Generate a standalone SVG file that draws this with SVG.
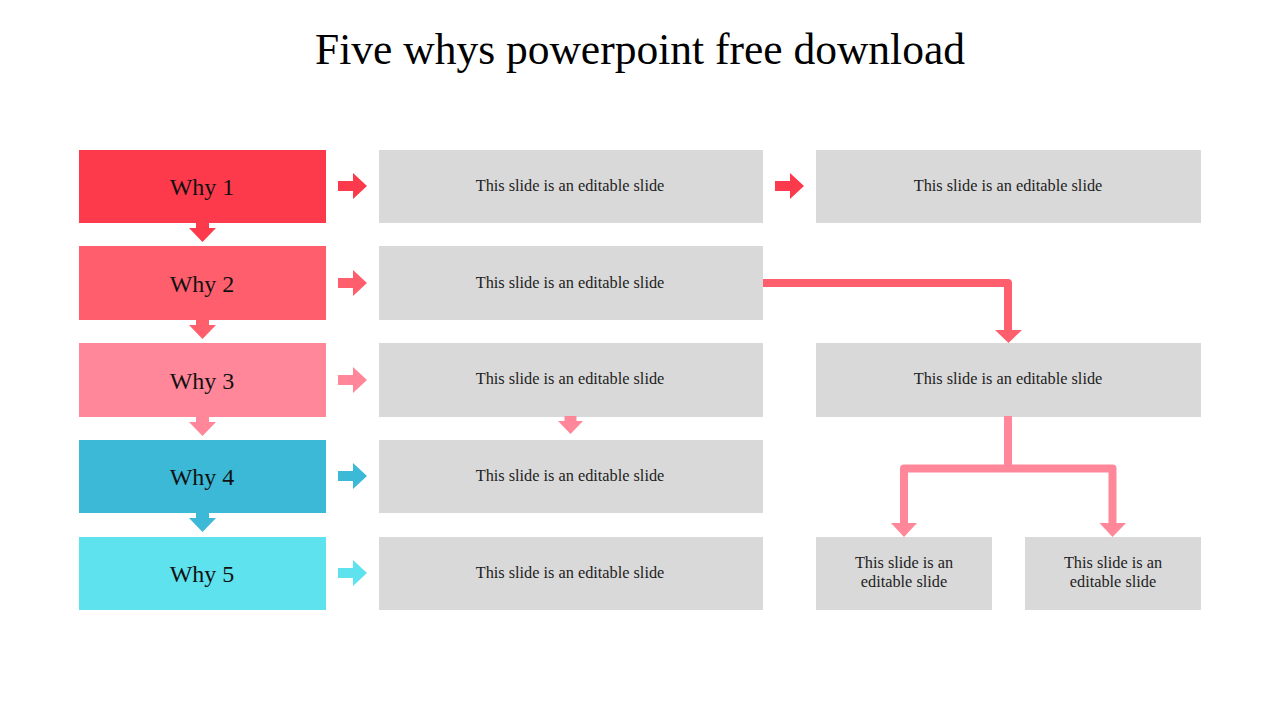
<svg xmlns="http://www.w3.org/2000/svg" width="1280" height="720" viewBox="0 0 1280 720">
<style>
.title{font-family:"Liberation Serif","DejaVu Serif",serif;font-size:43.5px;fill:#000;text-anchor:middle}
.why{font-family:"Liberation Serif","DejaVu Serif",serif;font-size:24px;fill:#111;text-anchor:middle}
.box{fill:#D9D9D9}
.t{font-family:"Liberation Serif","DejaVu Serif",serif;font-size:16.3px;fill:#222;text-anchor:middle}
.c2{fill:none;stroke:#FF5F6D;stroke-width:8;stroke-linejoin:round}
.c3{fill:none;stroke:#FF8799;stroke-width:8;stroke-linejoin:round}
</style>
<defs>
<path id="ra" d="M0,-5 H15 V-13 L29,0 L15,13 V5 H0 Z"/>
<path id="da" d="M-6.5,0 H6.5 V6 H13.5 L0,20 L-13.5,6 H-6.5 Z"/>
</defs>
<text class="title" x="640" y="64">Five whys powerpoint free download</text>

<g id="why1"><rect x="79" y="150" width="247" height="73" fill="#FC3A4B"/><text class="why" x="202" y="195">Why 1</text></g>
<g id="why2"><rect x="79" y="246" width="247" height="74" fill="#FF5F6D"/><text class="why" x="202" y="292">Why 2</text></g>
<g id="why3"><rect x="79" y="343" width="247" height="74" fill="#FF8799"/><text class="why" x="202" y="389">Why 3</text></g>
<g id="why4"><rect x="79" y="440" width="247" height="73" fill="#3BB9D7"/><text class="why" x="202" y="485">Why 4</text></g>
<g id="why5"><rect x="79" y="537" width="247" height="73" fill="#5EE2EE"/><text class="why" x="202" y="582">Why 5</text></g>

<g id="m1"><rect class="box" x="379" y="150" width="384" height="73"/><text class="t" x="570" y="191">This slide is an editable slide</text></g>
<g id="m2"><rect class="box" x="379" y="246" width="384" height="74"/><text class="t" x="570" y="288">This slide is an editable slide</text></g>
<g id="m3"><rect class="box" x="379" y="343" width="384" height="74"/><text class="t" x="570" y="384">This slide is an editable slide</text></g>
<g id="m4"><rect class="box" x="379" y="440" width="384" height="73"/><text class="t" x="570" y="481">This slide is an editable slide</text></g>
<g id="m5"><rect class="box" x="379" y="537" width="384" height="73"/><text class="t" x="570" y="578">This slide is an editable slide</text></g>

<g id="r1"><rect class="box" x="816" y="150" width="385" height="73"/><text class="t" x="1008" y="191">This slide is an editable slide</text></g>
<g id="r3"><rect class="box" x="816" y="343" width="385" height="74"/><text class="t" x="1008" y="384">This slide is an editable slide</text></g>
<g id="r5a"><rect class="box" x="816" y="537" width="176" height="73"/><text class="t" x="904" y="568">This slide is an</text><text class="t" x="904" y="587">editable slide</text></g>
<g id="r5b"><rect class="box" x="1025" y="537" width="176" height="73"/><text class="t" x="1113" y="568">This slide is an</text><text class="t" x="1113" y="587">editable slide</text></g>

<g id="connectors">
<use href="#ra" x="338" y="186" fill="#FC3A4B"/>
<use href="#ra" x="338" y="283" fill="#FF5F6D"/>
<use href="#ra" x="338" y="380" fill="#FF8799"/>
<use href="#ra" x="338" y="476" fill="#3BB9D7"/>
<use href="#ra" x="338" y="573" fill="#5EE2EE"/>
<use href="#ra" x="775" y="186" fill="#FC3A4B"/>
<use href="#da" x="202.5" y="222" fill="#FC3A4B"/>
<use href="#da" x="202.5" y="319" fill="#FF5F6D"/>
<use href="#da" x="202.5" y="416" fill="#FF8799"/>
<use href="#da" x="202.5" y="512" fill="#3BB9D7"/>
<path d="M564.5,416 H576.5 V421 H583 L570.5,434 L558,421 H564.5 Z" fill="#FF8799"/>
<path class="c2" d="M763,283 H1008 V331"/>
<path d="M995,330 H1022 L1008.5,343 Z" fill="#FF5F6D"/>
<path class="c3" d="M1008,416 V468.5 M904,524 V468.5 H1112.5 V524"/>
<path d="M891,523 H917 L904,537 Z" fill="#FF8799"/>
<path d="M1099.5,523 H1126 L1112.5,537 Z" fill="#FF8799"/>
</g>
</svg>
